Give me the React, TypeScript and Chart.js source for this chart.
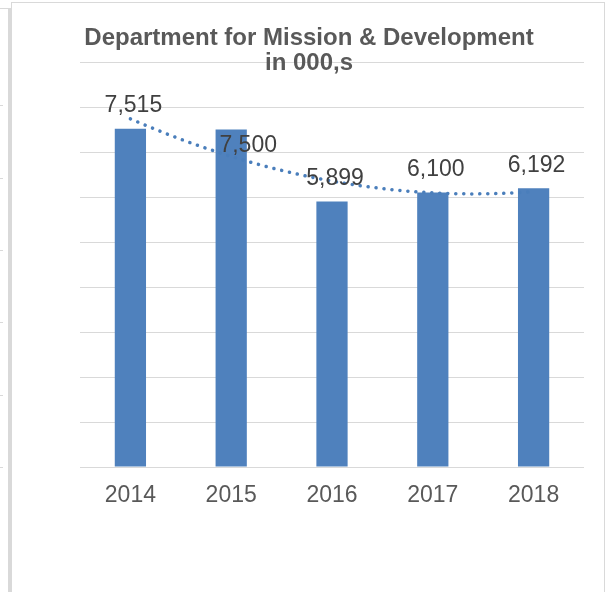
import React, { useEffect, useRef } from "react";
import { Chart, registerables } from "chart.js";

Chart.register(...registerables);

const categories: string[] = ["2014", "2015", "2016", "2017", "2018"];
const values: number[] = [7515, 7500, 5899, 6100, 6192];
const titleLines: string[] = ["Department for Mission & Development", "in 000,s"];
const yMin = 0;
const yMax = 9000;
const yStep = 1000;

const FONT = "'Liberation Sans', Arial, Helvetica, sans-serif";
const BAR = "#4F81BD";
const GRID = "#D9D9D9";

// label nudges (pixels) per bar index, relative to default placement
const labelNudge: Record<number, [number, number]> = { 1: [14, 39] };

function quadFit(ys: number[]) {
  const n = ys.length;
  let s0 = n, s1 = 0, s2 = 0, s3 = 0, s4 = 0, t0 = 0, t1 = 0, t2 = 0;
  ys.forEach((y, x) => {
    s1 += x; s2 += x * x; s3 += x * x * x; s4 += x * x * x * x;
    t0 += y; t1 += x * y; t2 += x * x * y;
  });
  const M = [
    [s0, s1, s2, t0],
    [s1, s2, s3, t1],
    [s2, s3, s4, t2],
  ];
  for (let i = 0; i < 3; i++) {
    for (let k = i + 1; k < 3; k++) {
      const f = M[k][i] / M[i][i];
      for (let j = i; j < 4; j++) M[k][j] -= f * M[i][j];
    }
  }
  const r = [0, 0, 0];
  for (let i = 2; i >= 0; i--) {
    let s = M[i][3];
    for (let j = i + 1; j < 3; j++) s -= M[i][j] * r[j];
    r[i] = s / M[i][i];
  }
  return (x: number) => r[0] + r[1] * x + r[2] * x * x;
}

const trendPlugin = {
  id: "trend",
  afterDatasetsDraw(chart: any) {
    const xs = chart.scales.x;
    const ys = chart.scales.y;
    const f = quadFit(values);
    const ctx = chart.ctx;
    ctx.save();
    ctx.strokeStyle = "#4A7EBB";
    ctx.lineWidth = 3.5;
    ctx.lineCap = "round";
    ctx.setLineDash([0.1, 7.9]);
    ctx.beginPath();
    const n = values.length - 1;
    const steps = 200;
    for (let i = 0; i <= steps; i++) {
      const xv = (n * i) / steps;
      const px = xs.getPixelForValue(xv);
      const py = ys.getPixelForValue(f(xv));
      if (i === 0) ctx.moveTo(px, py);
      else ctx.lineTo(px, py);
    }
    ctx.stroke();
    ctx.restore();
  },
};

const labelPlugin = {
  id: "labels",
  afterDraw(chart: any) {
    const ctx = chart.ctx;
    const meta = chart.getDatasetMeta(0);
    ctx.save();
    ctx.font = `23px ${FONT}`;
    ctx.fillStyle = "#404040";
    ctx.textAlign = "center";
    ctx.textBaseline = "middle";
    meta.data.forEach((bar: any, i: number) => {
      const nudge = labelNudge[i] || [0, 0];
      const x = bar.x + 3 + nudge[0];
      const y = bar.y - 23 + nudge[1];
      ctx.fillText(values[i].toLocaleString("en-US"), x, y);
    });
    ctx.font = `bold 24px ${FONT}`;
    ctx.fillStyle = "#595959";
    ctx.textBaseline = "alphabetic";
    const cx = chart.width / 2 + 1;
    ctx.fillText(titleLines[0], cx, 42);
    ctx.fillText(titleLines[1], cx, 67);
    ctx.restore();
  },
};

export default function App() {
  const ref = useRef<HTMLCanvasElement | null>(null);
  useEffect(() => {
    if (!ref.current) return;
    const chart = new Chart(ref.current, {
      type: "bar",
      data: {
        labels: categories,
        datasets: [
          {
            data: values,
            backgroundColor: BAR,
            borderWidth: 0,
            barPercentage: 0.31,
            categoryPercentage: 1,
          },
        ],
      },
      options: {
        animation: false,
        responsive: false,
        maintainAspectRatio: false,
        layout: { padding: { left: 0, right: 20, top: 59, bottom: 65 } },
        plugins: {
          legend: { display: false },
          tooltip: { enabled: false },
          title: { display: false },
        },
        scales: {
          x: {
            grid: { display: false, drawTicks: false },
            border: { display: false },
            ticks: {
              color: "#595959",
              font: { family: FONT, size: 23 },
              padding: 15,
              maxRotation: 0,
            },
            afterFit: (s: any) => {
              s.height = 60;
            },
          },
          y: {
            min: yMin,
            max: yMax,
            ticks: { display: false, stepSize: yStep },
            grid: { color: GRID, lineWidth: 1, drawTicks: false },
            border: { display: false },
            afterFit: (s: any) => {
              s.width = 68;
            },
          },
        },
      },
      plugins: [trendPlugin, labelPlugin],
    });
    return () => chart.destroy();
  }, []);

  const line = (style: React.CSSProperties) => (
    <div style={{ position: "absolute", background: GRID, ...style }} />
  );
  const tickYs = [105, 178, 250, 322, 395, 467];

  return (
    <div
      style={{
        position: "absolute",
        left: 0,
        top: 0,
        width: 605,
        height: 592,
        background: "#fff",
        overflow: "hidden",
      }}
    >
      {line({ left: 0, top: 8, width: 9, height: 1 })}
      {line({ left: 8, top: 8, width: 3, height: 584 })}
      {tickYs.map((y) => (
        <React.Fragment key={y}>{line({ left: 0, top: y, width: 3, height: 1 })}</React.Fragment>
      ))}
      {line({ left: 11, top: 2, width: 594, height: 1 })}
      {line({ left: 11, top: 2, width: 1, height: 590 })}
      {line({ left: 604, top: 2, width: 1, height: 590 })}
      <canvas
        ref={ref}
        width={592}
        height={589}
        style={{ position: "absolute", left: 12, top: 3, width: 592, height: 589 }}
      />
    </div>
  );
}
